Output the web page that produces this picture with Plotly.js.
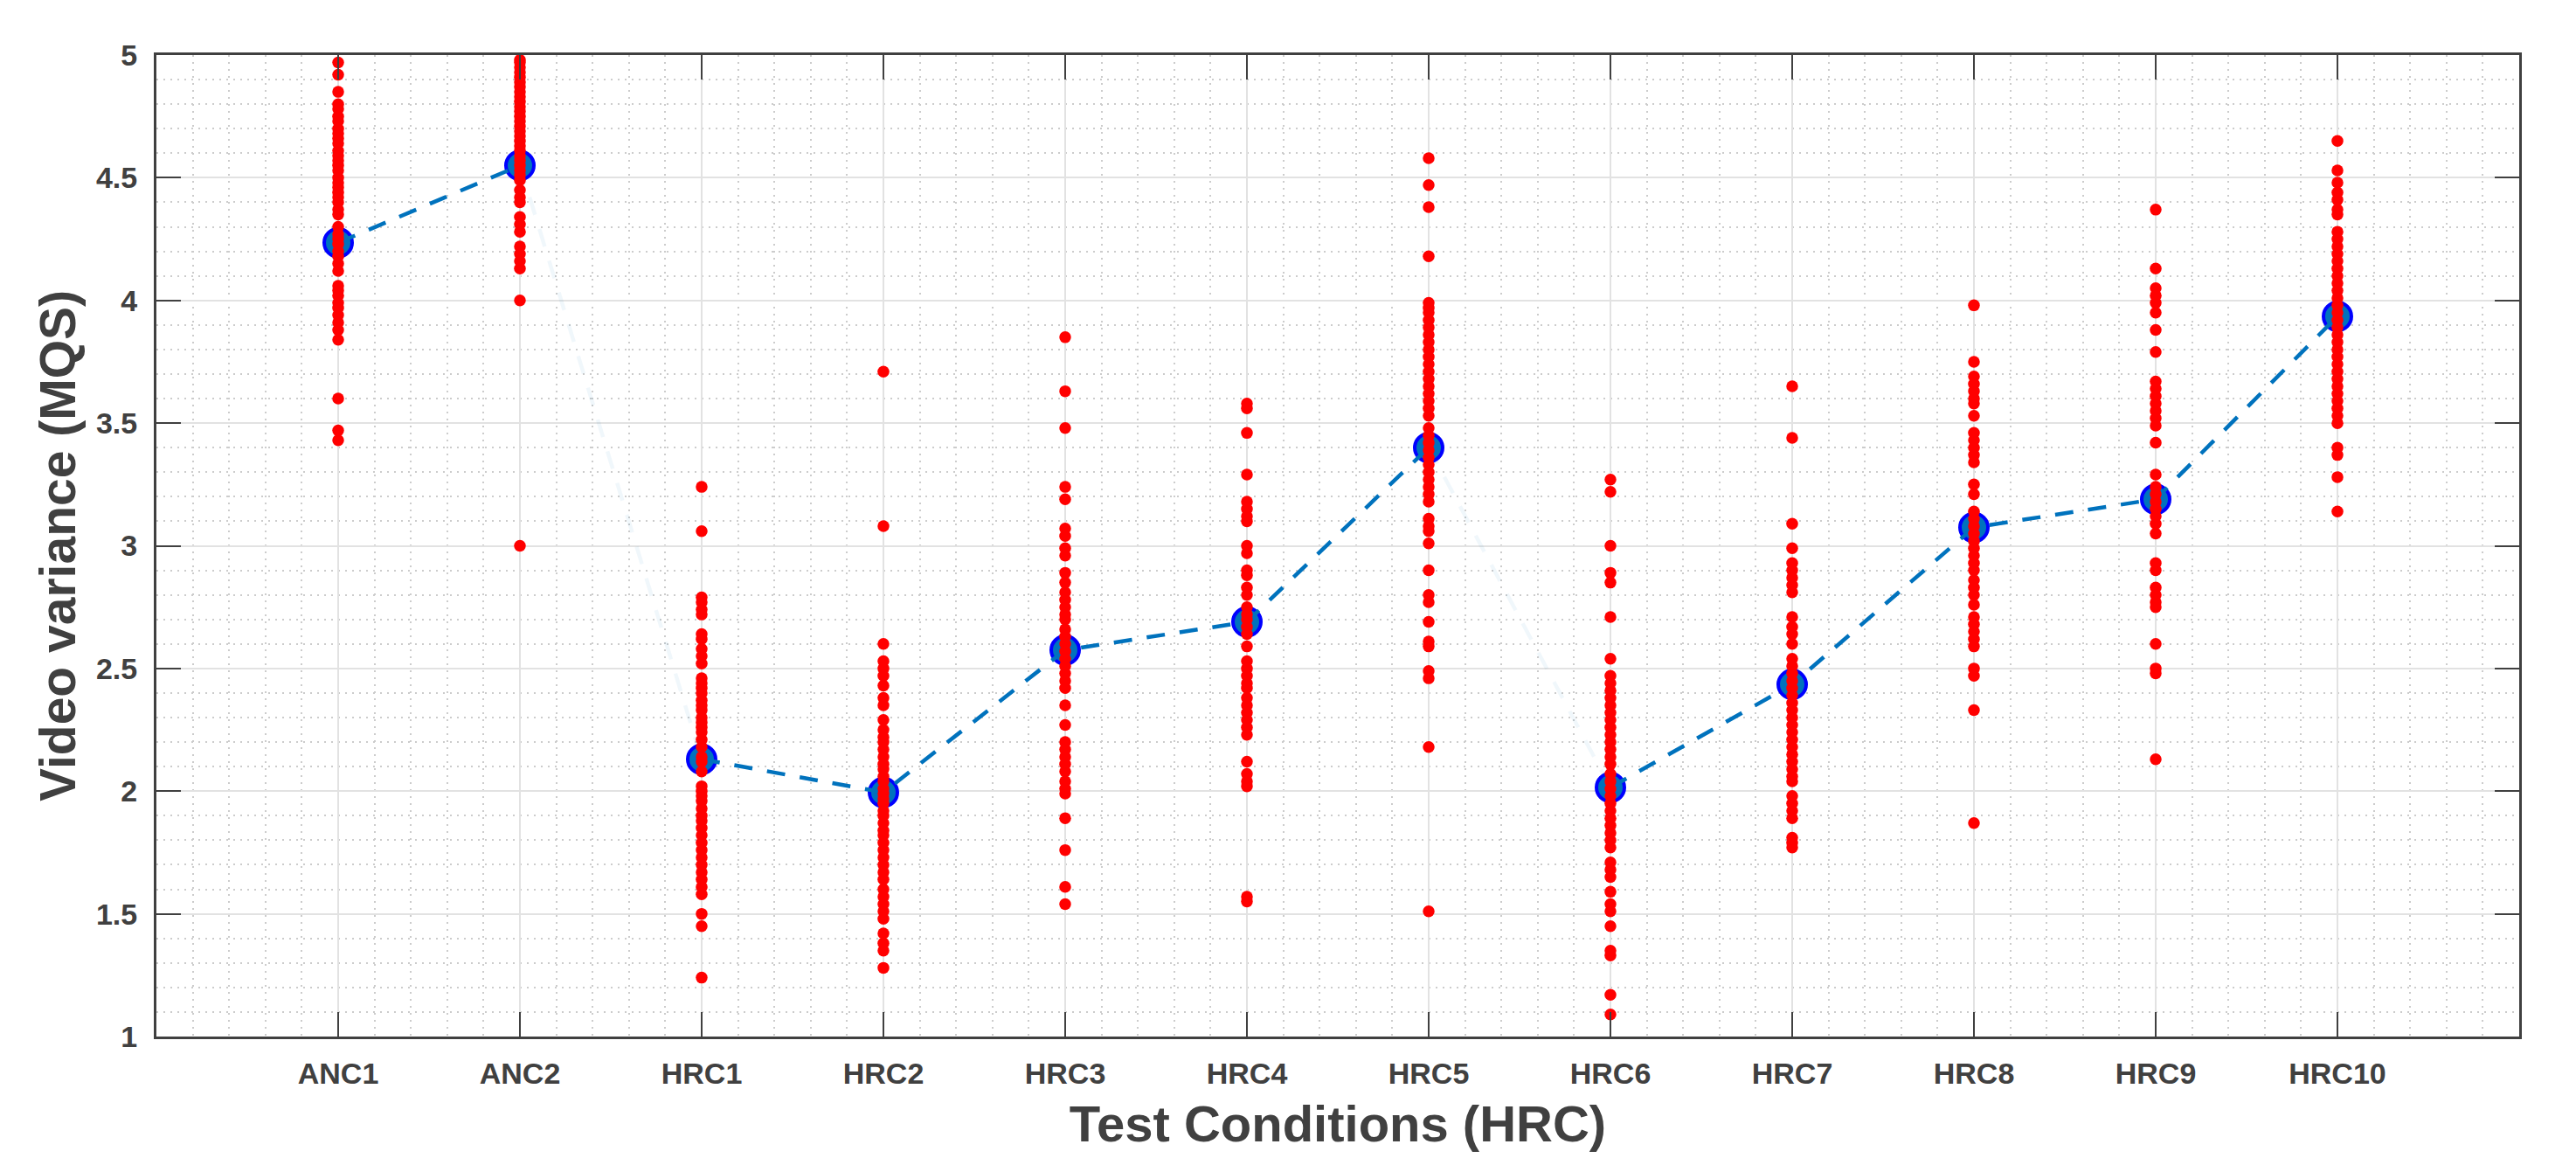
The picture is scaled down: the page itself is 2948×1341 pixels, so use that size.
<!DOCTYPE html>
<html>
<head>
<meta charset="utf-8">
<script src="https://cdn.plot.ly/plotly-3.0.1.min.js"></script>
<style>html,body{margin:0;padding:0;background:#fff;}#chart{width:2948px;height:1341px;}</style>
</head>
<body>
<div id="chart"></div>
<script>
const categories = ["ANC1","ANC2","HRC1","HRC2","HRC3","HRC4","HRC5","HRC6","HRC7","HRC8","HRC9","HRC10"];
const yTicks = [1,1.5,2,2.5,3,3.5,4,4.5,5];
const yTickText = ["1","1.5","2","2.5","3","3.5","4","4.5","5"];

const means = [4.235, 4.55, 2.13, 1.995, 2.575, 2.69, 3.40, 2.015, 2.435, 3.075, 3.19, 3.935];

const scoresANC1 = [4.97,4.92,4.85,4.80,4.78,4.75,4.73,4.70,4.68,4.66,4.64,4.61,4.59,4.57,4.55,4.53,4.50,4.48,4.46,4.44,4.42,4.40,4.37,4.35,4.30,4.27,4.25,4.23,4.20,4.18,4.15,4.12,4.06,4.04,4.02,3.99,3.97,3.94,3.91,3.88,3.84,3.60,3.47,3.43];
const scoresANC2 = [4.98,4.97,4.95,4.93,4.91,4.89,4.87,4.85,4.83,4.81,4.79,4.77,4.75,4.73,4.71,4.69,4.67,4.65,4.63,4.61,4.59,4.57,4.55,4.53,4.51,4.49,4.45,4.42,4.40,4.34,4.31,4.28,4.22,4.19,4.16,4.13,4.00,3.00];
const scoresHRC1 = [3.24,3.06,2.79,2.77,2.74,2.72,2.64,2.62,2.58,2.55,2.52,2.46,2.44,2.42,2.40,2.37,2.35,2.33,2.30,2.28,2.26,2.24,2.21,2.18,2.14,2.12,2.08,2.02,2.00,1.98,1.96,1.93,1.90,1.88,1.85,1.82,1.79,1.76,1.73,1.70,1.67,1.64,1.61,1.58,1.50,1.45,1.24];
const scoresHRC2 = [3.71,3.08,2.60,2.53,2.50,2.47,2.43,2.38,2.35,2.29,2.25,2.22,2.20,2.17,2.14,2.11,2.09,2.06,2.04,2.01,1.99,1.97,1.95,1.92,1.90,1.87,1.84,1.82,1.79,1.76,1.73,1.70,1.67,1.64,1.60,1.57,1.54,1.51,1.48,1.42,1.38,1.35,1.28];
const scoresHRC3 = [3.85,3.63,3.48,3.24,3.19,3.07,3.04,2.99,2.96,2.89,2.85,2.81,2.78,2.75,2.72,2.70,2.66,2.63,2.60,2.57,2.54,2.51,2.48,2.45,2.42,2.35,2.27,2.20,2.17,2.14,2.11,2.08,2.04,2.01,1.99,1.89,1.76,1.61,1.54];
const scoresHRC4 = [3.58,3.56,3.46,3.29,3.18,3.15,3.12,3.10,3.00,2.97,2.90,2.88,2.83,2.80,2.75,2.72,2.70,2.67,2.64,2.59,2.53,2.50,2.47,2.44,2.42,2.38,2.35,2.32,2.29,2.26,2.23,2.12,2.07,2.04,2.02,1.57,1.55];
const scoresHRC5 = [4.58,4.47,4.38,4.18,3.99,3.97,3.95,3.92,3.89,3.86,3.83,3.80,3.77,3.74,3.71,3.68,3.65,3.62,3.59,3.56,3.53,3.48,3.45,3.42,3.39,3.36,3.33,3.30,3.27,3.24,3.21,3.18,3.11,3.08,3.06,3.01,2.90,2.80,2.77,2.69,2.61,2.59,2.49,2.46,2.18,1.51];
const scoresHRC6 = [3.27,3.22,3.00,2.89,2.85,2.71,2.54,2.47,2.44,2.41,2.38,2.35,2.32,2.29,2.26,2.23,2.20,2.17,2.14,2.11,2.07,2.04,2.01,1.98,1.95,1.92,1.89,1.86,1.83,1.80,1.77,1.71,1.68,1.65,1.59,1.54,1.51,1.45,1.35,1.33,1.17,1.09];
const scoresHRC7 = [3.65,3.44,3.09,2.99,2.93,2.90,2.87,2.84,2.81,2.71,2.67,2.64,2.60,2.54,2.51,2.48,2.45,2.42,2.39,2.36,2.33,2.30,2.27,2.24,2.21,2.18,2.15,2.12,2.09,2.06,2.04,1.98,1.95,1.92,1.89,1.81,1.79,1.77];
const scoresHRC8 = [3.98,3.75,3.69,3.66,3.63,3.60,3.58,3.53,3.46,3.43,3.40,3.37,3.34,3.25,3.21,3.14,3.11,3.08,3.05,3.02,2.99,2.96,2.93,2.90,2.86,2.83,2.80,2.76,2.71,2.68,2.65,2.62,2.59,2.50,2.47,2.33,1.87];
const scoresHRC9 = [4.37,4.13,4.05,4.02,3.99,3.95,3.88,3.79,3.67,3.64,3.61,3.58,3.55,3.52,3.49,3.42,3.29,3.24,3.21,3.18,3.15,3.12,3.09,3.05,2.93,2.90,2.83,2.80,2.77,2.75,2.60,2.50,2.48,2.13];
const scoresHRC10 = [4.65,4.53,4.48,4.44,4.41,4.37,4.35,4.28,4.25,4.22,4.19,4.16,4.13,4.10,4.07,4.04,4.01,3.98,3.95,3.92,3.89,3.86,3.83,3.80,3.77,3.74,3.71,3.68,3.65,3.62,3.59,3.56,3.53,3.50,3.40,3.37,3.28,3.14];

const scores = [scoresANC1,scoresANC2,scoresHRC1,scoresHRC2,scoresHRC3,scoresHRC4,scoresHRC5,scoresHRC6,scoresHRC7,scoresHRC8,scoresHRC9,scoresHRC10];

// line segments (connected groups of conditions)
const segments = [[0,1],[2,6],[7,11]];
const ghostSegments = [[1,2],[6,7]];

function segXY(segs){
  const x=[], y=[];
  segs.forEach(([a,b],k)=>{
    if(k>0){x.push(null);y.push(null);}
    for(let i=a;i<=b;i++){x.push(i+1);y.push(means[i]);}
  });
  return {x,y};
}

const dotX=[], dotY=[];
scores.forEach((arr,i)=>arr.forEach(v=>{dotX.push(i+1);dotY.push(v);}));

const seg = segXY(segments);
const ghost = segXY(ghostSegments);

const traces = [
  {type:'scatter',mode:'markers',x:categories.map((c,i)=>i+1),y:means,
   marker:{size:32,color:'#0072BD',line:{color:'#0000FF',width:4}},hoverinfo:'skip',showlegend:false},
  {type:'scatter',mode:'lines',x:ghost.x,y:ghost.y,connectgaps:false,
   line:{color:'rgba(0,114,189,0.06)',width:4.5,dash:'21px,17px'},hoverinfo:'skip',showlegend:false},
  {type:'scatter',mode:'lines',x:seg.x,y:seg.y,connectgaps:false,
   line:{color:'#0072BD',width:4.5,dash:'21px,17px'},hoverinfo:'skip',showlegend:false},
  {type:'scatter',mode:'markers',x:dotX,y:dotY,
   marker:{size:13.5,color:'#FF0000'},hoverinfo:'skip',showlegend:false}
];

const fontFam = 'Liberation Sans, Arial, Helvetica, sans-serif';
const axisColor = '#404040';

const layout = {
  width:2948,height:1341,
  margin:{l:179,r:65,t:63,b:155},
  paper_bgcolor:'#ffffff',plot_bgcolor:'#ffffff',
  showlegend:false,
  font:{family:fontFam,color:axisColor},
  xaxis:{
    range:[0,13],
    tickvals:categories.map((c,i)=>i+1),ticktext:categories,
    tickfont:{family:fontFam,size:34,color:axisColor,weight:'bold'},
    ticks:'inside',ticklen:28,tickwidth:2,tickcolor:axisColor,
    ticklabelstandoff:10,
    showline:true,linecolor:axisColor,linewidth:3,mirror:'ticks',
    showgrid:true,gridcolor:'#e2e2e2',gridwidth:2,
    minor:{dtick:0.2,showgrid:true,gridcolor:'#cccccc',gridwidth:2,griddash:'2px,6px'},
    zeroline:false,
    title:{text:'Test Conditions (HRC)',font:{family:fontFam,size:58,color:axisColor,weight:'bold'},standoff:20}
  },
  yaxis:{
    range:[1,5],
    tickvals:yTicks,ticktext:yTickText,
    tickfont:{family:fontFam,size:34,color:axisColor,weight:'bold'},
    ticks:'inside',ticklen:28,tickwidth:2,tickcolor:axisColor,
    ticklabelstandoff:12,
    showline:true,linecolor:axisColor,linewidth:3,mirror:'ticks',
    showgrid:true,gridcolor:'#e2e2e2',gridwidth:2,
    minor:{dtick:0.1,showgrid:true,gridcolor:'#cccccc',gridwidth:2,griddash:'2px,6px'},
    zeroline:false,
    title:{text:'Video variance (MQS)',font:{family:fontFam,size:57,color:axisColor,weight:'bold'},standoff:5}
  }
};

Plotly.newPlot('chart',traces,layout,{staticPlot:true,displayModeBar:false});
</script>
</body>
</html>
